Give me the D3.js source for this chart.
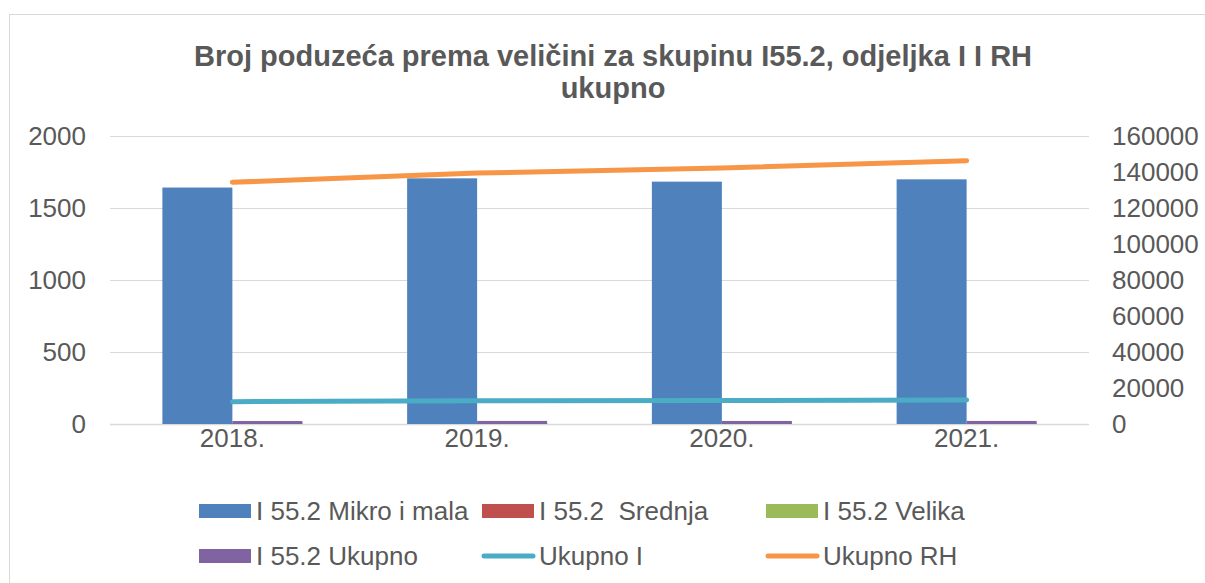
<!DOCTYPE html>
<html>
<head>
<meta charset="utf-8">
<script src="https://cdn.jsdelivr.net/npm/d3@7"></script>
<style>
  body { margin: 0; background: #fff; }
  text { font-family: "Liberation Sans", Arial, sans-serif; fill: #595959; }
</style>
</head>
<body>
<svg id="chart"></svg>
<script>
// data
const years = ["2018.", "2019.", "2020.", "2021."];
const mikro = [1642, 1706, 1683, 1699];
const srednja = [5, 5, 5, 5];
const velika = [0, 0, 0, 0];
const ukupno = [1647, 1711, 1688, 1704];       // secondary axis
const ukupnoI = [12400, 12950, 13050, 13330];   // secondary axis
const ukupnoRH = [134300, 139400, 142200, 146300]; // secondary axis
const leftTicks = [0, 500, 1000, 1500, 2000];
const rightTicks = [0, 20000, 40000, 60000, 80000, 100000, 120000, 140000, 160000];

const width = 1205, height = 583;
const colors = {
  mikro: "#4f81bd", srednja: "#c0504d", velika: "#9bbb59",
  ukupno: "#8064a2", ukupnoI: "#4bacc6", ukupnoRH: "#f79646"
};

const svg = d3.select("#chart")
  .attr("width", width)
  .attr("height", height);

// chart frame
svg.append("rect")
  .attr("x", 9.5).attr("y", 14.5)
  .attr("width", 1220).attr("height", 600)
  .attr("fill", "#fff")
  .attr("stroke", "#d9d9d9");

// title
svg.append("text")
  .attr("x", 613).attr("y", 66)
  .attr("text-anchor", "middle")
  .attr("font-size", 29).attr("font-weight", "bold")
  .text("Broj poduzeća prema veličini za skupinu I55.2, odjeljka I I RH");
svg.append("text")
  .attr("x", 613).attr("y", 98)
  .attr("text-anchor", "middle")
  .attr("font-size", 29).attr("font-weight", "bold")
  .text("ukupno");

// scales
const x = d3.scaleBand().domain(years).range([110, 1089]);
const slot = d3.scaleBand().domain(["a", "b"]).range([0, 140]);
const yL = d3.scaleLinear().domain([0, 2000]).range([424, 136]);
const yR = d3.scaleLinear().domain([0, 160000]).range([424, 136]);

// gridlines
svg.append("g")
  .selectAll("line")
  .data(leftTicks)
  .join("line")
  .attr("x1", 110).attr("x2", 1089)
  .attr("y1", d => yL(d) + 0.5).attr("y2", d => yL(d) + 0.5)
  .attr("stroke", "#d9d9d9")
  .attr("stroke-width", d => d === 0 ? 1.5 : 1);

function styleAxis(g) {
  g.select(".domain").remove();
  g.selectAll("text")
    .attr("font-size", 26)
    .attr("fill", "#595959")
    .attr("font-family", "Liberation Sans, Arial, sans-serif");
}

// left axis
svg.append("g")
  .attr("transform", "translate(86,0)")
  .call(d3.axisLeft(yL).tickValues(leftTicks).tickSize(0).tickPadding(0)
    .tickFormat(d3.format("d")))
  .call(styleAxis);

// right axis
svg.append("g")
  .attr("transform", "translate(1112,0)")
  .call(d3.axisRight(yR).tickValues(rightTicks).tickSize(0).tickPadding(0)
    .tickFormat(d3.format("d")))
  .call(styleAxis);

// x axis labels
svg.append("g")
  .attr("transform", "translate(0,429)")
  .call(d3.axisBottom(x).tickSize(0).tickPadding(0))
  .call(styleAxis);

const groupX = d => x(d) + x.bandwidth() / 2 - 70;

// bars
function bars(values, scale, s, color) {
  svg.append("g")
    .selectAll("rect")
    .data(values.map((v, i) => ({ year: years[i], v })))
    .join("rect")
    .attr("x", d => groupX(d.year) + slot(s))
    .attr("width", slot.bandwidth())
    .attr("y", d => scale(d.v))
    .attr("height", d => scale(0) - scale(d.v))
    .attr("fill", color);
}
bars(mikro, yL, "a", colors.mikro);
bars(srednja, yL, "b", colors.srednja);
bars(velika, yL, "b", colors.velika);
bars(ukupno, yR, "b", colors.ukupno);

// lines
const line = d3.line()
  .x((d, i) => x(years[i]) + x.bandwidth() / 2)
  .y(d => yR(d));
[[ukupnoI, colors.ukupnoI], [ukupnoRH, colors.ukupnoRH]].forEach(([vals, c]) => {
  svg.append("path")
    .datum(vals)
    .attr("d", line)
    .attr("fill", "none")
    .attr("stroke", c)
    .attr("stroke-width", 5)
    .attr("stroke-linecap", "round")
    .attr("stroke-linejoin", "round");
});

// legend
const legendItems = [
  { name: "I 55.2 Mikro i mala", color: colors.mikro, type: "bar", x: 199, y: 511 },
  { name: "I 55.2  Srednja", color: colors.srednja, type: "bar", x: 482, y: 511 },
  { name: "I 55.2 Velika", color: colors.velika, type: "bar", x: 766, y: 511 },
  { name: "I 55.2 Ukupno", color: colors.ukupno, type: "bar", x: 199, y: 556 },
  { name: "Ukupno I", color: colors.ukupnoI, type: "line", x: 482, y: 556 },
  { name: "Ukupno RH", color: colors.ukupnoRH, type: "line", x: 766, y: 556 }
];
const legends = svg.selectAll(".legend")
  .data(legendItems)
  .join("g")
  .attr("class", "legend")
  .attr("transform", d => `translate(${d.x},${d.y})`);

legends.filter(d => d.type === "bar").append("rect")
  .attr("x", 0).attr("y", -7)
  .attr("width", 52).attr("height", 14)
  .attr("fill", d => d.color);

legends.filter(d => d.type === "line").append("line")
  .attr("x1", 2).attr("x2", 51)
  .attr("y1", 0).attr("y2", 0)
  .attr("stroke", d => d.color)
  .attr("stroke-width", 5)
  .attr("stroke-linecap", "round");

legends.append("text")
  .attr("x", 57).attr("y", 9)
  .attr("font-size", 26)
  .style("white-space", "pre")
  .text(d => d.name);
</script>
</body>
</html>
